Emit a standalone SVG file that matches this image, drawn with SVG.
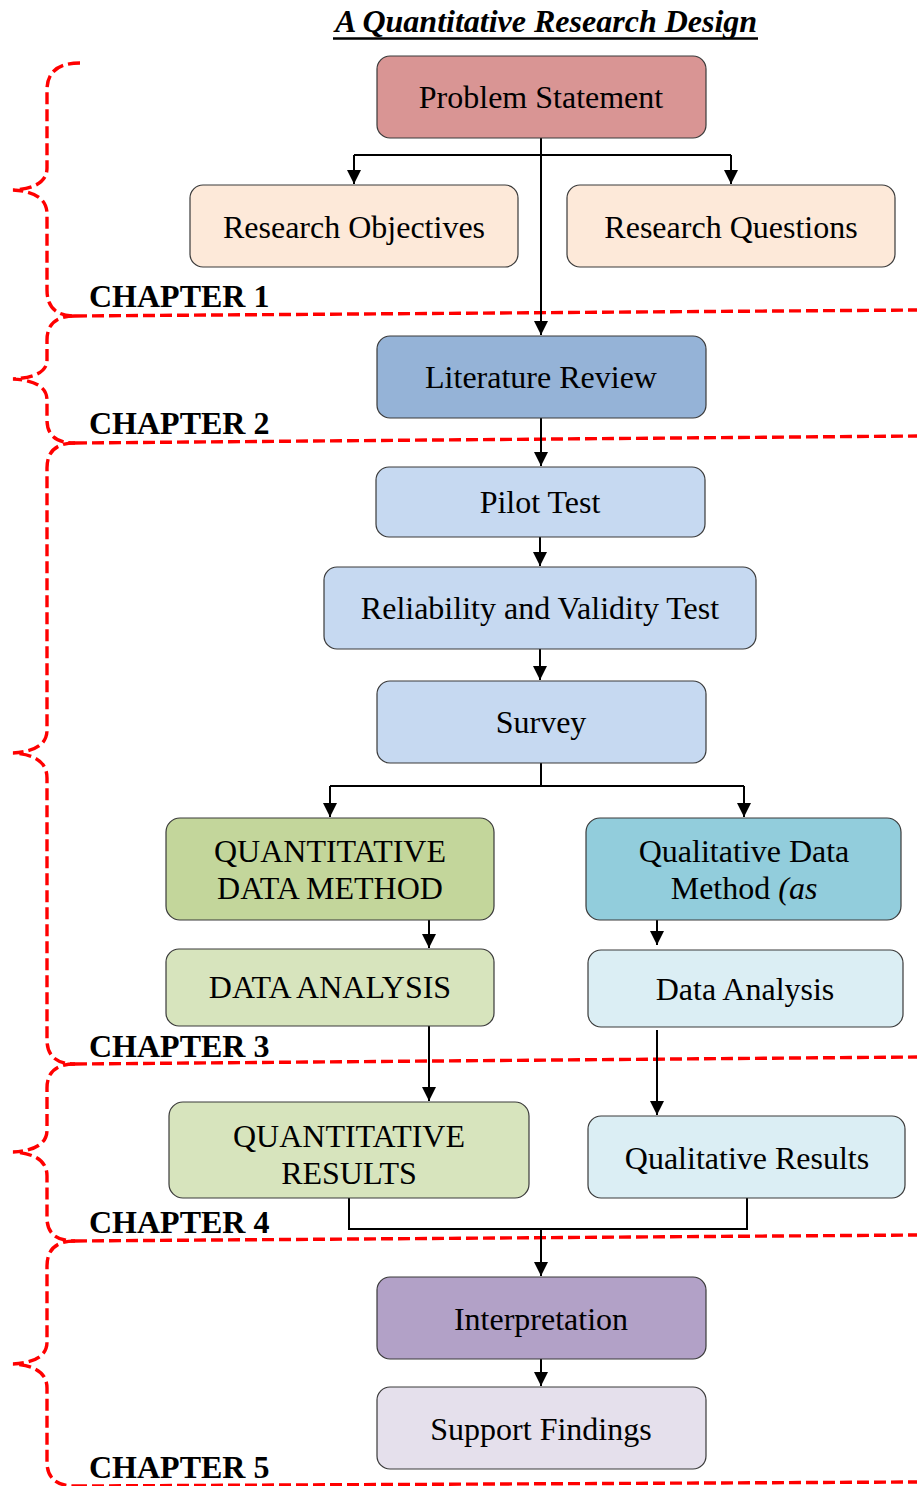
<svg xmlns="http://www.w3.org/2000/svg" width="917" height="1486" viewBox="0 0 917 1486">
  <style>
    .box { stroke: #3a3a3a; stroke-width: 1.2; }
    .lbl { font-family: "Liberation Serif", "Times New Roman", serif; font-size: 32px; fill: #000; text-anchor: middle; }
    .chap { font-family: "Liberation Serif", "Times New Roman", serif; font-size: 32px; font-weight: bold; fill: #000; }
    .title { font-family: "Liberation Serif", "Times New Roman", serif; font-size: 32px; font-weight: bold; font-style: italic; fill: #000; text-anchor: middle; }
    .conn { fill: none; stroke: #000; stroke-width: 2; }
    .red { fill: none; stroke: #ff0000; stroke-width: 3.4; stroke-dasharray: 12 5; }
  </style>
  <defs>
    <marker id="arrow" markerUnits="userSpaceOnUse" markerWidth="14" markerHeight="16" viewBox="0 0 14 16" refX="14" refY="7" orient="auto">
      <path d="M0,0 L14,7 L0,14 Z" fill="#000"/>
    </marker>
  </defs>

  <rect width="917" height="1486" fill="#fff"/>

  <!-- heading -->
  <g id="title">
    <text class="title" x="546" y="32">A Quantitative Research Design</text>
    <line x1="333" y1="38.5" x2="758" y2="38.5" stroke="#000" stroke-width="2.5"/>
  </g>

  <!-- chapter braces and dividers -->
  <g id="chapters">
    <path class="red" d="M80,63 Q47,63 47,90 L47,168 Q47,188 13,190 Q47,192 47,214 L47,290 Q47,316 75,316"/>
    <path class="red" d="M75,316 L917,310"/>
    <path class="red" d="M75,316 Q47,316 47,340 L47,360 Q47,377 13,379 Q47,381 47,400 L47,420 Q47,443 75,443"/>
    <path class="red" d="M75,443 L917,436"/>
    <path class="red" d="M75,443 Q47,443 47,468 L47,730 Q47,751 13,753 Q47,755 47,778 L47,1040 Q47,1064 75,1064"/>
    <path class="red" d="M75,1064 L917,1057"/>
    <path class="red" d="M75,1064 Q47,1064 47,1088 L47,1130 Q47,1150 13,1152 Q47,1154 47,1176 L47,1218 Q47,1241 75,1241"/>
    <path class="red" d="M75,1241 L917,1235"/>
    <path class="red" d="M75,1241 Q47,1241 47,1266 L47,1342 Q47,1362 13,1364 Q47,1366 47,1388 L47,1462 Q47,1486 75,1486"/>
    <path class="red" d="M75,1486 L917,1482"/>
    <text class="chap" x="89" y="307">CHAPTER 1</text>
    <text class="chap" x="89" y="434">CHAPTER 2</text>
    <text class="chap" x="89" y="1057">CHAPTER 3</text>
    <text class="chap" x="89" y="1233">CHAPTER 4</text>
    <text class="chap" x="89" y="1478">CHAPTER 5</text>
  </g>

  <!-- connectors -->
  <g id="connectors">
    <path class="conn" d="M541,138 L541,335" marker-end="url(#arrow)"/>
    <path class="conn" d="M354,155 L731,155"/>
    <path class="conn" d="M354,155 L354,184" marker-end="url(#arrow)"/>
    <path class="conn" d="M731,155 L731,184" marker-end="url(#arrow)"/>
    <path class="conn" d="M541,418 L541,466" marker-end="url(#arrow)"/>
    <path class="conn" d="M540,537 L540,566" marker-end="url(#arrow)"/>
    <path class="conn" d="M540,649 L540,680" marker-end="url(#arrow)"/>
    <path class="conn" d="M541,763 L541,786 M330,786 L744,786"/>
    <path class="conn" d="M330,786 L330,817" marker-end="url(#arrow)"/>
    <path class="conn" d="M744,786 L744,817" marker-end="url(#arrow)"/>
    <path class="conn" d="M429,920 L429,948" marker-end="url(#arrow)"/>
    <path class="conn" d="M657,920 L657,945" marker-end="url(#arrow)"/>
    <path class="conn" d="M429,1026 L429,1101" marker-end="url(#arrow)"/>
    <path class="conn" d="M657,1030 L657,1115" marker-end="url(#arrow)"/>
    <path class="conn" d="M349,1198 L349,1229 L747,1229 L747,1198"/>
    <path class="conn" d="M541,1229 L541,1276" marker-end="url(#arrow)"/>
    <path class="conn" d="M541,1359 L541,1386" marker-end="url(#arrow)"/>
  </g>

  <!-- nodes -->
  <g id="problem-statement">
    <rect class="box" x="377" y="56" width="329" height="82" rx="13" fill="#d99594"/>
    <text class="lbl" x="541" y="108">Problem Statement</text>
  </g>
  <g id="research-objectives">
    <rect class="box" x="190" y="185" width="328" height="82" rx="13" fill="#fde9d9"/>
    <text class="lbl" x="354" y="238">Research Objectives</text>
  </g>
  <g id="research-questions">
    <rect class="box" x="567" y="185" width="328" height="82" rx="13" fill="#fde9d9"/>
    <text class="lbl" x="731" y="238">Research Questions</text>
  </g>
  <g id="literature-review">
    <rect class="box" x="377" y="336" width="329" height="82" rx="13" fill="#95b3d7"/>
    <text class="lbl" x="541" y="388">Literature Review</text>
  </g>
  <g id="pilot-test">
    <rect class="box" x="376" y="467" width="329" height="70" rx="13" fill="#c6d9f1"/>
    <text class="lbl" x="540" y="513">Pilot Test</text>
  </g>
  <g id="reliability-validity">
    <rect class="box" x="324" y="567" width="432" height="82" rx="13" fill="#c6d9f1"/>
    <text class="lbl" x="540" y="619">Reliability and Validity Test</text>
  </g>
  <g id="survey">
    <rect class="box" x="377" y="681" width="329" height="82" rx="13" fill="#c6d9f1"/>
    <text class="lbl" x="541" y="733">Survey</text>
  </g>
  <g id="quantitative-method">
    <rect class="box" x="166" y="818" width="328" height="102" rx="14" fill="#c3d69b"/>
    <text class="lbl" x="330" y="862">QUANTITATIVE</text>
    <text class="lbl" x="330" y="899">DATA METHOD</text>
  </g>
  <g id="qualitative-method">
    <rect class="box" x="586" y="818" width="315" height="102" rx="14" fill="#92cddc"/>
    <text class="lbl" x="744" y="862">Qualitative Data</text>
    <text class="lbl" x="744" y="899">Method <tspan font-style="italic">(as</tspan></text>
  </g>
  <g id="quantitative-analysis">
    <rect class="box" x="166" y="949" width="328" height="77" rx="13" fill="#d7e4bd"/>
    <text class="lbl" x="330" y="998">DATA ANALYSIS</text>
  </g>
  <g id="qualitative-analysis">
    <rect class="box" x="588" y="950" width="315" height="77" rx="13" fill="#dbeef4"/>
    <text class="lbl" x="745" y="1000">Data Analysis</text>
  </g>
  <g id="quantitative-results">
    <rect class="box" x="169" y="1102" width="360" height="96" rx="14" fill="#d7e4bd"/>
    <text class="lbl" x="349" y="1147">QUANTITATIVE</text>
    <text class="lbl" x="349" y="1184">RESULTS</text>
  </g>
  <g id="qualitative-results">
    <rect class="box" x="588" y="1116" width="317" height="82" rx="13" fill="#dbeef4"/>
    <text class="lbl" x="747" y="1169">Qualitative Results</text>
  </g>
  <g id="interpretation">
    <rect class="box" x="377" y="1277" width="329" height="82" rx="13" fill="#b2a1c7"/>
    <text class="lbl" x="541" y="1330">Interpretation</text>
  </g>
  <g id="support-findings">
    <rect class="box" x="377" y="1387" width="329" height="82" rx="13" fill="#e5e0ec"/>
    <text class="lbl" x="541" y="1440">Support Findings</text>
  </g>
</svg>
